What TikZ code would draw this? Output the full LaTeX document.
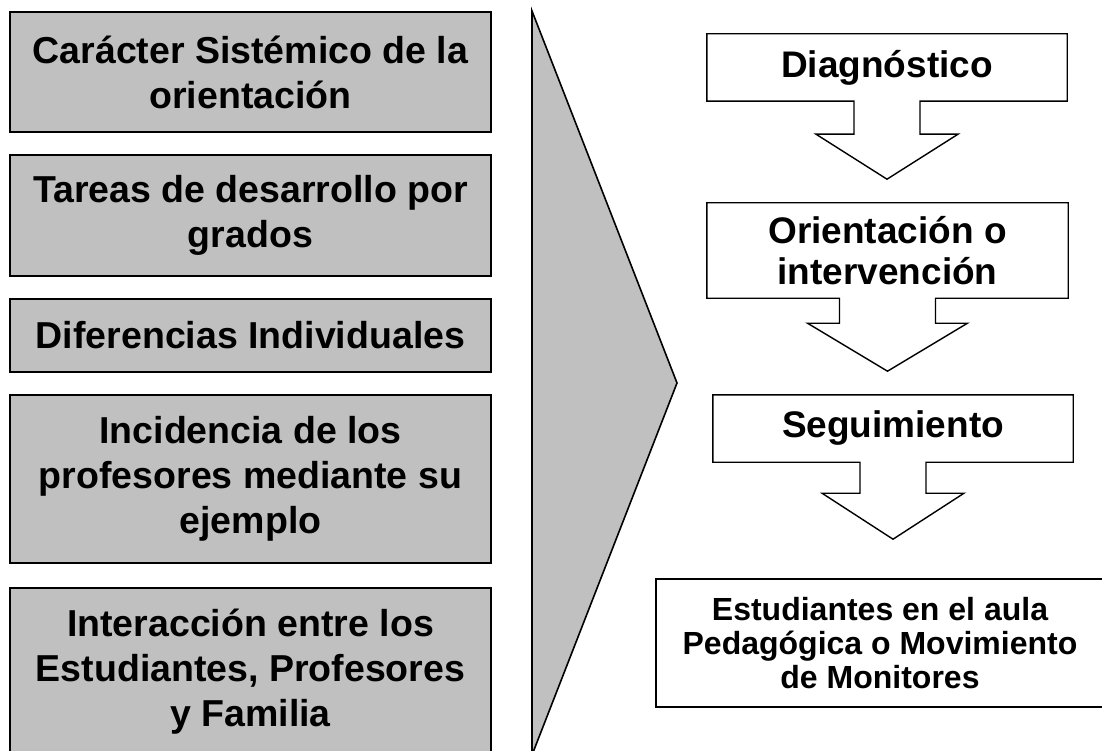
\documentclass[tikz,border=0pt]{standalone}
\usepackage{fontspec}
\setmainfont{Liberation Sans}
\usetikzlibrary{calc}
\definecolor{boxgray}{HTML}{C0C0C0}
% #1 node, #2 shaft half width, #3 shaft length, #4 wing half width, #5 tip depth below box
\newcommand\mkcallout[5]{%
  \draw[outline] (#1.south west) -- (#1.north west) -- (#1.north east) -- (#1.south east)
    -- ($(#1.south)+(#2,0)$) -- ($(#1.south)+(#2,#3)$) -- ($(#1.south)+(#4,#3)$)
    -- ($(#1.south)+(0,#5)$) -- ($(#1.south)+(-#4,#3)$) -- ($(#1.south)+(-#2,#3)$)
    -- ($(#1.south)+(-#2,0)$) -- cycle;}
\begin{document}
\begin{tikzpicture}[x=1pt,y=-1pt,
  leftbox/.style={draw=black, line width=2pt, fill=boxgray, minimum width=481pt, inner sep=0pt,
    align=center, font=\fontsize{37.5}{45}\selectfont\bfseries},
  stepbox/.style={inner sep=0pt, align=center, minimum width=360pt,
    font=\fontsize{37}{41}\selectfont\bfseries},
  endbox/.style={draw=black, line width=1.5pt, inner sep=0pt, align=center,
    font=\fontsize{32}{34}\selectfont\bfseries},
  outline/.style={draw=black, line width=1.4pt, line join=miter},
]
\useasboundingbox (0,0) rectangle (1102,751);
\clip (0,0) rectangle (1102,751);
\fill[white] (0,0) rectangle (1102,751);

% left boxes
\node[leftbox, minimum height=120pt] (l1) at (250.5,72) {Carácter Sistémico de la\\orientación};
\node[leftbox, minimum height=121pt] (l2) at (250.5,215.5) {Tareas de desarrollo por\\grados};
\node[leftbox, minimum height=73pt] (l3) at (250.5,335.5) {Diferencias Individuales};
\node[leftbox, minimum height=168pt] (l4) at (250.5,479) {Incidencia de los\\profesores mediante su\\ejemplo};
\node[leftbox, minimum height=167pt] (l5) at (250.5,671.5) {Interacción entre los\\Estudiantes, Profesores\\y Familia};

% big chevron
\coordinate (ct) at (532,11);
\coordinate (ctip) at (677,383);
\coordinate (cb) at (532,755);
\draw[fill=boxgray, line width=1.6pt, line join=miter] (ct) -- (ctip) -- (cb) -- cycle;

% right steps
\node[stepbox, minimum height=67pt] (s1) at (887,67.5) {Diagnóstico};
\mkcallout{s1}{33}{33}{71}{78}
\node[stepbox, minimum height=95pt, minimum width=361pt] (s2) at (887.5,250.5) {Orientación o\\intervención};
\mkcallout{s2}{48}{25}{80}{73}
\node[stepbox, minimum height=67pt] (s3) at (893,428.5) {Seguimiento};
\mkcallout{s3}{33}{31}{71}{77}

\node[endbox, minimum width=448pt, minimum height=128pt] (e) at (880,643) {Estudiantes en el aula\\Pedagógica o Movimiento\\de Monitores};
\end{tikzpicture}
\end{document}
